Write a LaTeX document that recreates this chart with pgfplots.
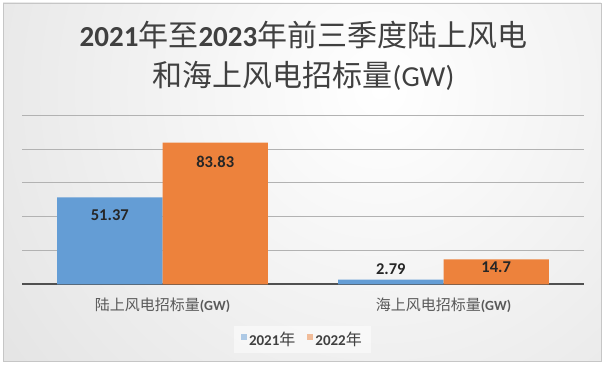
\documentclass[border=0pt]{standalone}
\usepackage{fontspec}
\usepackage{pgfplots}
\pgfplotsset{compat=1.18}
\setmainfont{Carlito}
\newfontfamily\cjk{Noto Sans CJK SC}
\definecolor{bblue}{RGB}{100,157,213}
\definecolor{borange}{RGB}{237,130,60}
\definecolor{ttl}{RGB}{64,64,64}
\definecolor{cat}{RGB}{89,89,89}
\definecolor{lblc}{RGB}{38,38,38}
\definecolor{gridc}{RGB}{178,178,178}
\definecolor{basec}{RGB}{80,80,80}
\definecolor{bgout}{RGB}{200,200,200}
\newcommand{\tc}[1]{{\cjk\mdseries\fontsize{30bp}{36bp}\selectfont #1}}
\newcommand{\tl}[1]{{\fontsize{29bp}{36bp}\selectfont #1}}
\newcommand{\catl}[1]{{\cjk\fontsize{15bp}{18bp}\selectfont #1}{\fontsize{14bp}{15bp}\selectfont\bfseries (GW)}}
\newcommand{\leg}[1]{{\fontsize{15bp}{16bp}\selectfont\bfseries #1}{\cjk\fontsize{16bp}{16bp}\selectfont 年}}
\newcommand{\lbl}{\fontsize{16.5bp}{18bp}\selectfont\bfseries}
\begin{document}
\begin{tikzpicture}
\path[use as bounding box] (0,0) rectangle (606bp,366bp);
\fill[white] (0,0) rectangle (606bp,366bp);
\begin{scope}
\clip (3bp,5bp) rectangle (601bp,363bp);
\shade[inner color=white, outer color=bgout] (380bp,276bp) circle (960bp);
\end{scope}
\draw[gray!45, line width=0.6bp] (3bp,5bp) rectangle (601bp,363bp);
\node[text=ttl, anchor=center, inner sep=0pt] at (303.5bp,331bp) {\tl{\bfseries 2021}\tc{年至}\tl{\bfseries 2023}\tc{年前三季度陆上风电}};
\node[text=ttl, anchor=center, inner sep=0pt] at (303.5bp,290.5bp) {\tc{和海上风电招标量}\tl{(GW)}};
\begin{axis}[
  at={(22bp,81.7bp)}, anchor=south west, scale only axis,
  width=562bp, height=169bp,
  xmin=-0.5, xmax=1.5, ymin=0, ymax=100,
  axis x line*=bottom, axis y line*=left,
  x axis line style={-, draw=basec, line width=2.2bp},
  y axis line style={draw=none},
  ytick={0,20,40,60,80,100}, yticklabels={},
  ymajorgrids, grid style={draw=gridc, line width=1.1bp},
  xtick={0,1},
  xticklabels={\catl{陆上风电招标量}, \catl{海上风电招标量}},
  tick style={draw=none},
  x tick label style={anchor=center, yshift=-21.4bp, text=cat},
  legend style={at={(0.499,-0.324)}, anchor=center, legend columns=2,
    draw=none, fill=white, fill opacity=0.5, text opacity=1, text=ttl,
    inner xsep=7bp, inner ysep=4bp,
    /tikz/every even column/.append style={column sep=10bp}},
  legend image code/.code={\fill[#1] (0bp,-1bp) rectangle (6bp,5bp);},
  clip=false,
]
\addplot[ybar, fill=bblue, draw=none, bar width=105.4bp, bar shift=-52.7bp] coordinates {(0,51.37) (1,2.79)};
\addplot[ybar, fill=borange, draw=none, bar width=105.4bp, bar shift=52.7bp] coordinates {(0,83.83) (1,14.7)};
\legend{\leg{2021}, \leg{2022}}
\node[font=\lbl, text=lblc] at (axis cs:-0.1875,41.0) {51.37};
\node[font=\lbl, text=lblc] at (axis cs:0.1875,72.6) {83.83};
\node[font=\lbl, text=lblc] at (axis cs:0.8125,8.9) {2.79};
\node[font=\lbl, text=lblc] at (axis cs:1.1875,9.95) {14.7};
\end{axis}
\end{tikzpicture}
\end{document}
